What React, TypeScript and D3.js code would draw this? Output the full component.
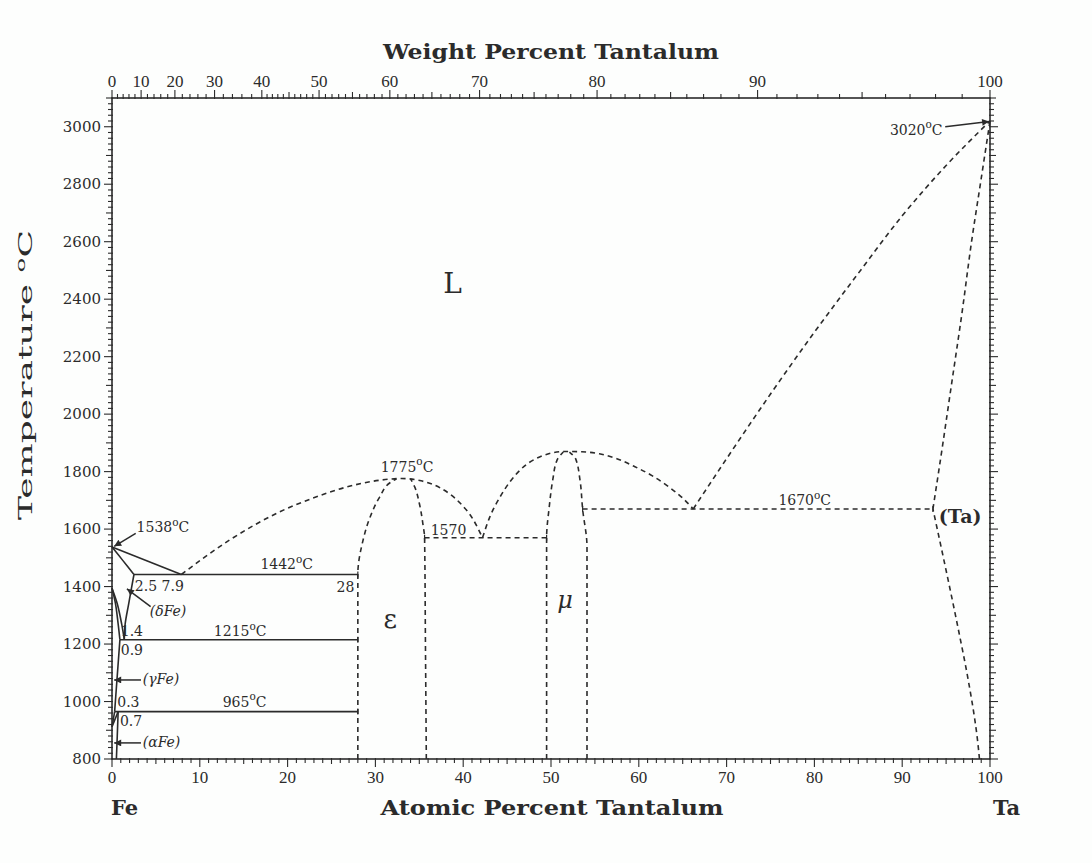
import React from 'react';
import * as d3 from 'd3';

type P = [number, number];

// ---------- axis tick labels ----------
const atomicTicks = [0, 10, 20, 30, 40, 50, 60, 70, 80, 90, 100];
const weightTicks = [0, 10, 20, 30, 40, 50, 60, 70, 80, 90, 100];
const tempTicks = [800, 1000, 1200, 1400, 1600, 1800, 2000, 2200, 2400, 2600, 2800, 3000];

// ---------- phase boundaries (atomic % Ta, °C) ----------
const feLiquidus: P[] = [[0, 1538], [7.9, 1442]];
const feSolidus: P[] = [[0, 1538], [1.2, 1492], [2.5, 1442]];
const deltaSolvus: P[] = [[2.5, 1442], [1.9, 1340], [1.5, 1270], [1.4, 1215]];
const deltaGamma: P[] = [[0, 1394], [0.6, 1340], [1.1, 1270], [1.4, 1215]];
const gammaDelta: P[] = [[0, 1394], [0.4, 1340], [0.7, 1270], [0.9, 1215]];
const gammaSolvus: P[] = [[0.9, 1215], [0.6, 1090], [0.3, 965]];
const gammaAlpha: P[] = [[0, 912], [0.3, 965]];
const alphaGamma: P[] = [[0, 912], [0.7, 965]];
const alphaSolvus: P[] = [[0.7, 965], [0.6, 880], [0.5, 800]];

const epsilonLiquidus: P[] = [
  [7.9, 1442], [13.4, 1562], [19.1, 1660], [22.9, 1708], [26.8, 1747], [30.5, 1770],
  [33.0, 1776], [35.2, 1768], [37.4, 1743], [39.6, 1692], [41.1, 1635], [42.2, 1570],
];
const epsilonLeft: P[] = [
  [28.0, 800], [28.0, 1442], [28.6, 1562], [29.4, 1642], [30.5, 1712], [31.7, 1762], [32.4, 1775],
];
const epsilonRight: P[] = [
  [35.8, 800], [35.7, 1200], [35.6, 1570], [35.4, 1620], [35.0, 1690], [34.5, 1745], [34.0, 1775],
];
const muLiquidus: P[] = [
  [42.2, 1570], [43.0, 1640], [44.2, 1712], [46.5, 1806], [48.7, 1851], [51.6, 1870],
  [53.5, 1869], [55.5, 1862], [57.5, 1845], [59.5, 1818], [61.5, 1786], [63.5, 1745], [65.0, 1708], [66.2, 1670],
];
const muLeft: P[] = [
  [49.5, 800], [49.5, 1570], [49.8, 1677], [50.2, 1771], [50.7, 1841], [51.4, 1868],
];
const muRight: P[] = [
  [54.1, 800], [54.1, 1538], [53.6, 1670], [53.3, 1771], [52.8, 1845], [52.1, 1868],
];
const taLiquidus: P[] = [
  [66.2, 1670], [70, 1845], [75, 2070], [80, 2285], [85, 2490], [90, 2690], [95, 2865], [100, 3020],
];
const taSolidus: P[] = [
  [93.5, 1670], [94.4, 1850], [95.6, 2100], [96.8, 2350], [97.9, 2600], [99.0, 2820], [100, 3020],
];
const taSolvus: P[] = [
  [98.8, 800], [98.6, 860], [97.4, 1095], [96.5, 1235], [94.1, 1585], [93.5, 1670],
];

// isotherms: [from, to, temperature]
const solidIsotherms: [number, number, number][] = [[2.5, 28, 1442], [0.9, 28, 1215], [0.3, 28, 965]];
const dashedIsotherms: [number, number, number][] = [[35.6, 49.5, 1570], [53.6, 93.5, 1670]];

// ---------- annotations ----------
type Lbl = { t: string; x: number; y: number; anchor: string; deg?: boolean };
const numberLabels: Lbl[] = [
  { t: '1775', x: 33.6, y: 1800, anchor: 'middle', deg: true },
  { t: '1570', x: 36.3, y: 1580, anchor: 'start' },
  { t: '1670', x: 78.9, y: 1683, anchor: 'middle', deg: true },
  { t: '1442', x: 19.9, y: 1460, anchor: 'middle', deg: true },
  { t: '28', x: 27.6, y: 1380, anchor: 'end' },
  { t: '2.5 7.9', x: 2.6, y: 1385, anchor: 'start' },
  { t: '1.4', x: 1.0, y: 1228, anchor: 'start' },
  { t: '1215', x: 14.6, y: 1228, anchor: 'middle', deg: true },
  { t: '0.9', x: 1.0, y: 1162, anchor: 'start' },
  { t: '0.3', x: 0.6, y: 982, anchor: 'start' },
  { t: '965', x: 15.1, y: 982, anchor: 'middle', deg: true },
  { t: '0.7', x: 0.9, y: 915, anchor: 'start' },
  { t: '1538', x: 2.8, y: 1590, anchor: 'start', deg: true },
  { t: '3020', x: 94.6, y: 2972, anchor: 'end', deg: true },
];
const phaseLabels: Lbl[] = [
  { t: '(δFe)', x: 4.3, y: 1297, anchor: 'start' },
  { t: '(γFe)', x: 3.5, y: 1060, anchor: 'start' },
  { t: '(αFe)', x: 3.5, y: 841, anchor: 'start' },
];
// arrows: [x1, T1, x2, T2]
const arrows: [number, number, number, number][] = [
  [2.7, 1585, 0.25, 1540],
  [4.4, 1330, 1.7, 1392],
  [3.3, 1075, 0.25, 1075],
  [3.3, 856, 0.25, 856],
  [94.9, 3000, 99.9, 3018],
];

const W = 1092, H = 863;
const x = d3.scaleLinear().domain([0, 100]).range([112, 990]);
const y = d3.scaleLinear().domain([800, 3100]).range([759, 98]);

const FE = 55.845, TA = 180.948;
const atFromWt = (w: number) => {
  const a = w / TA, b = (100 - w) / FE;
  return (a / (a + b)) * 100;
};

const lineX = d3.line<P>().x(d => x(d[0])).y(d => y(d[1])).curve(d3.curveMonotoneX);
const lineY = d3.line<P>().x(d => x(d[0])).y(d => y(d[1])).curve(d3.curveMonotoneY);
const lineL = d3.line<P>().x(d => x(d[0])).y(d => y(d[1])).curve(d3.curveCatmullRom);

const INK = '#2b2b2b';
const DASH = '5,4';
const numFont = '"DejaVu Serif", serif';

function Deg({ t, xx, yy, anchor, size }: { t: string; xx: number; yy: number; anchor: string; size: number }) {
  return (
    <text x={xx} y={yy} textAnchor={anchor} fontFamily={numFont} fontSize={size} fill={INK}>
      {t}
      <tspan fontSize={size * 0.75} dy={-size * 0.45}>o</tspan>
      <tspan dy={size * 0.45}>C</tspan>
    </text>
  );
}

export default function App() {
  const minorAt = d3.range(0, 101, 1);
  const minorWt = d3.range(0, 100.01, 1).filter(w => w >= 40 || w % 2 === 0);
  const minorT = d3.range(800, 3101, 20);

  return (
    <svg width={W} height={H} style={{ position: 'absolute', left: 0, top: 0, background: '#fdfefd' }}>
      <defs>
        <marker id="ah" viewBox="0 0 10 10" refX="10" refY="5" markerWidth="9" markerHeight="7" orient="auto" markerUnits="userSpaceOnUse">
          <path d="M0,0 L10,5 L0,10 z" fill={INK} />
        </marker>
      </defs>

      {/* frame */}
      <rect x={x(0)} y={y(3100)} width={x(100) - x(0)} height={y(800) - y(3100)} fill="none" stroke={INK} strokeWidth={1.6} />

      {/* bottom axis ticks (atomic %) */}
      {minorAt.map(v => (
        <line key={'b' + v} x1={x(v)} x2={x(v)} y1={y(800) - 1} y2={y(800) + (v % 10 === 0 ? 8 : v % 5 === 0 ? 5 : 4)} stroke={INK} strokeWidth={1.1} />
      ))}
      {atomicTicks.map(v => (
        <text key={'bl' + v} x={x(v)} y={783} textAnchor="middle" fontFamily='"Liberation Serif", serif' fontSize={17} fill={INK}>{v}</text>
      ))}

      {/* top axis ticks (weight %) */}
      {minorWt.map(w => (
        <line key={'t' + w} x1={x(atFromWt(w))} x2={x(atFromWt(w))} y1={y(3100) + 1} y2={y(3100) - (w % 10 === 0 ? 8 : w % 5 === 0 ? 6 : 4)} stroke={INK} strokeWidth={1.1} />
      ))}
      {weightTicks.map(w => (
        <text key={'tl' + w} x={x(atFromWt(w))} y={87} textAnchor="middle" fontFamily='"Liberation Serif", serif' fontSize={17} fill={INK}>{w}</text>
      ))}

      {/* left / right temperature ticks */}
      {minorT.map(t => {
        const len = t % 200 === 0 ? 8 : t % 100 === 0 ? 6 : 4;
        return (
          <g key={'y' + t}>
            <line x1={x(0) + 1} x2={x(0) - len} y1={y(t)} y2={y(t)} stroke={INK} strokeWidth={1.1} />
            <line x1={x(100) - 1} x2={x(100) + len} y1={y(t)} y2={y(t)} stroke={INK} strokeWidth={1.1} />
          </g>
        );
      })}
      {tempTicks.map(t => (
        <text key={'yl' + t} x={x(0) - 11} y={y(t) + 5} textAnchor="end" fontFamily={numFont} fontSize={15} fill={INK}>{t}</text>
      ))}

      {/* axis titles */}
      <text x={551} y={59} textAnchor="middle" fontFamily={numFont} fontWeight="bold" fontSize={21} textLength={336} lengthAdjust="spacingAndGlyphs" fill={INK}>Weight Percent Tantalum</text>
      <text x={552} y={815} textAnchor="middle" fontFamily={numFont} fontWeight="bold" fontSize={21} textLength={343} lengthAdjust="spacingAndGlyphs" fill={INK}>Atomic Percent Tantalum</text>
      <text x={111} y={815} textAnchor="start" fontFamily={numFont} fontWeight="bold" fontSize={21} fill={INK}>Fe</text>
      <text x={993} y={815} textAnchor="start" fontFamily={numFont} fontWeight="bold" fontSize={21} fill={INK}>Ta</text>
      <text transform="translate(32,375) rotate(-90)" textAnchor="middle" fontFamily={numFont} fontSize={19} textLength={290} lengthAdjust="spacingAndGlyphs" fill={INK}>
        Temperature <tspan fontSize={13} dy={-7}>o</tspan><tspan dy={7}>C</tspan>
      </text>

      {/* solid boundaries */}
      <g fill="none" stroke={INK} strokeWidth={1.6}>
        {[feLiquidus, feSolidus, deltaSolvus, deltaGamma, gammaDelta, gammaSolvus, gammaAlpha, alphaGamma, alphaSolvus].map((c, i) => (
          <path key={'s' + i} d={lineL(c) || ''} />
        ))}
        {solidIsotherms.map(([a, b, t], i) => (
          <g key={'si' + i}>
            <line x1={x(a)} x2={x(b)} y1={y(t)} y2={y(t)} />
            <line x1={x(b)} x2={x(b)} y1={y(t) - 3} y2={y(t) + 3} strokeWidth={1.2} />
          </g>
        ))}
      </g>

      {/* dashed boundaries */}
      <g fill="none" stroke={INK} strokeWidth={1.6} strokeDasharray={DASH}>
        {[epsilonLiquidus, muLiquidus, taLiquidus].map((c, i) => (
          <path key={'dx' + i} d={lineX(c) || ''} />
        ))}
        {[epsilonLeft, epsilonRight, muLeft, muRight, taSolidus, taSolvus].map((c, i) => (
          <path key={'dy' + i} d={lineY(c) || ''} />
        ))}
        {dashedIsotherms.map(([a, b, t], i) => (
          <line key={'di' + i} x1={x(a)} x2={x(b)} y1={y(t)} y2={y(t)} />
        ))}
      </g>
      <g stroke={INK} strokeWidth={1.2}>
        {dashedIsotherms.map(([a, b, t], i) => (
          <g key={'de' + i}>
            <line x1={x(a)} x2={x(a)} y1={y(t) - 3} y2={y(t) + 3} />
            <line x1={x(b)} x2={x(b)} y1={y(t) - 3} y2={y(t) + 3} />
          </g>
        ))}
      </g>

      {/* arrows */}
      <g stroke={INK} strokeWidth={1.5}>
        {arrows.map(([a, t1, b, t2], i) => (
          <line key={'a' + i} x1={x(a)} y1={y(t1)} x2={x(b)} y2={y(t2)} markerEnd="url(#ah)" />
        ))}
      </g>

      {/* numeric annotations */}
      {numberLabels.map((l, i) =>
        l.deg ? (
          <Deg key={'n' + i} t={l.t} xx={x(l.x)} yy={y(l.y)} anchor={l.anchor} size={14} />
        ) : (
          <text key={'n' + i} x={x(l.x)} y={y(l.y)} textAnchor={l.anchor} fontFamily={numFont} fontSize={14} fill={INK}>{l.t}</text>
        )
      )}
      {phaseLabels.map((l, i) => (
        <text key={'p' + i} x={x(l.x)} y={y(l.y)} textAnchor={l.anchor} fontFamily={numFont} fontStyle="italic" fontSize={14} fill={INK}>{l.t}</text>
      ))}

      {/* phase field labels */}
      <text x={x(38.8)} y={y(2420)} textAnchor="middle" fontFamily={numFont} fontSize={28} fill={INK}>L</text>
      <text x={x(31.7)} y={y(1255)} textAnchor="middle" fontFamily={numFont} fontSize={26} fill={INK}>ε</text>
      <text x={x(51.6)} y={y(1325)} textAnchor="middle" fontFamily={numFont} fontStyle="italic" fontSize={24} fill={INK}>μ</text>
      <text x={x(96.6)} y={y(1620)} textAnchor="middle" fontFamily={numFont} fontWeight="bold" fontSize={19} fill={INK}>(Ta)</text>
    </svg>
  );
}
